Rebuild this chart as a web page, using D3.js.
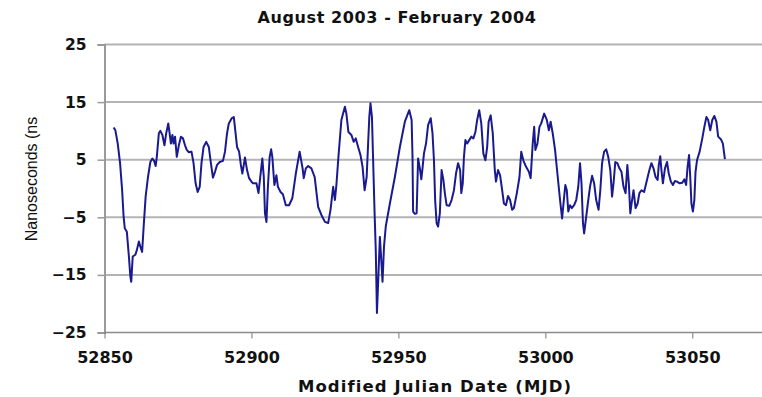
<!DOCTYPE html>
<html>
<head>
<meta charset="utf-8">
<script src="https://cdn.jsdelivr.net/npm/d3@7"></script>
<style>
  html, body { margin: 0; padding: 0; background: #fff; }
  svg { display: block; }
</style>
</head>
<body>
<svg id="chart" width="762" height="397"></svg>
<script>
const titleText = "August 2003 - February 2004";
const xTitle = "Modified Julian Date (MJD)";
const yTitle = "Nanoseconds (ns";
const xTicks = [52850, 52900, 52950, 53000, 53050];
const yTicks = [-25, -15, -5, 5, 15, 25];

const mjd = [
52853.1,52853.7,52854.5,52855.3,52856.0,52856.5,52856.9,52857.6,52858.3,52858.8,
52859.1,52859.6,52860.5,52861.0,52861.7,52862.2,52862.8,52863.4,52864.0,52864.8,
52865.6,52866.3,52866.8,52867.4,52867.8,52868.5,52869.0,52869.7,52870.4,52871.0,
52871.7,52872.1,52872.6,52873.1,52873.5,52874.0,52874.6,52875.3,52876.0,52876.7,
52877.4,52878.0,52878.7,52879.6,52880.3,52881.0,52881.7,52882.4,52883.0,52883.7,
52884.6,52885.5,52886.2,52886.9,52887.6,52888.3,52889.2,52890.3,52891.0,52891.7,
52892.3,52893.3,52894.0,52894.6,52895.1,52895.8,52896.4,52896.9,52897.4,52897.8,
52898.5,52899.2,52900.0,52900.5,52901.7,52902.4,52903.0,52903.7,52904.2,52904.6,
52905.1,52905.6,52906.2,52906.7,52907.1,52907.8,52908.5,52909.0,52909.9,52910.7,
52911.7,52912.8,52913.9,52915.1,52916.4,52917.4,52917.8,52918.5,52919.3,52920.4,
52921.5,52922.7,52923.8,52925.0,52926.1,52926.9,52927.8,52928.4,52928.9,52929.6,
52930.6,52931.8,52932.3,52933.0,52934.0,52934.8,52935.5,52936.3,52937.1,52937.8,
52938.5,52939.2,52939.7,52940.1,52940.5,52941.0,52941.4,52941.9,52942.3,52942.7,
52943.1,52943.7,52944.1,52944.6,52945.1,52945.7,52947.1,52948.8,52950.5,52952.2,
52953.7,52954.5,52954.8,52955.0,52955.6,52956.2,52956.7,52957.3,52957.8,52958.2,
52958.7,52959.4,52960.1,52961.0,52961.6,52962.1,52962.5,52963.0,52963.5,52964.1,
52964.7,52965.3,52965.8,52966.4,52967.3,52968.1,52968.9,52969.6,52970.3,52971.0,
52971.4,52971.9,52972.3,52972.8,52973.4,52974.1,52974.8,52975.5,52976.2,52976.8,
52977.5,52978.2,52978.9,52979.6,52980.2,52980.7,52981.4,52982.1,52982.8,52983.2,
52983.9,52984.6,52985.3,52985.9,52986.6,52987.3,52988.0,52988.7,52989.3,52990.3,
52991.2,52991.8,52992.5,52993.4,52994.4,52995.0,52995.7,52996.2,52996.6,52997.3,
52998.0,52998.6,52999.6,53000.5,53001.2,53001.8,53002.5,53003.3,53004.1,53005.0,
53005.7,53006.4,53006.8,53007.3,53007.8,53008.4,53009.0,53009.8,53010.5,53011.2,
53011.8,53012.3,53012.8,53013.2,53013.9,53014.6,53015.2,53015.9,53016.6,53017.3,
53018.1,53018.7,53019.3,53020.0,53020.7,53021.4,53022.1,53022.7,53023.2,53023.8,
53024.5,53025.2,53025.9,53026.6,53027.3,53027.9,53028.4,53028.9,53029.5,53030.0,
53030.7,53031.4,53032.0,53032.7,53033.6,53034.6,53035.4,53036.1,53036.8,53037.5,
53038.2,53038.6,53039.1,53039.5,53040.0,53040.7,53041.4,53042.0,53042.7,53043.4,
53044.1,53044.8,53045.7,53046.6,53047.3,53047.9,53048.4,53048.9,53049.3,53049.7,
53050.2,53050.7,53051.1,53051.6,53052.5,53053.4,53054.1,53054.8,53055.4,53056.1,
53056.8,53057.5,53058.2,53058.8,53059.8,53060.4,53061.1
];

const ns = [
10.6,10.1,7.8,4.4,-0.3,-4.9,-6.9,-7.5,-11.8,-15.3,
-16.2,-11.8,-11.5,-10.7,-9.2,-10.1,-11.0,-6.0,-1.4,2.0,
4.6,5.2,4.9,3.9,5.5,9.6,10.0,9.3,7.5,9.6,
11.3,9.8,7.8,9.3,7.8,9.0,5.5,7.5,9.0,8.7,
7.5,6.7,6.3,6.4,4.4,0.9,-0.6,0.3,4.4,7.2,
8.1,7.2,4.4,1.9,2.9,4.1,4.6,4.8,6.4,9.6,
11.3,12.2,12.4,9.6,7.2,6.4,4.1,2.6,4.1,5.4,
3.2,1.8,1.2,0.9,0.9,-0.8,2.0,5.2,2.0,-4.3,
-5.8,0.3,5.5,6.8,5.5,0.6,2.3,0.3,-0.6,-1.0,
-2.9,-2.9,-1.7,2.6,6.4,3.5,1.8,3.5,3.9,3.5,
2.0,-3.2,-4.6,-5.8,-6.0,-3.7,0.3,-2.0,0.6,5.5,
11.9,14.2,13.0,9.8,9.3,8.1,8.7,7.2,5.8,3.8,
-0.3,2.0,7.8,12.4,14.8,12.4,4.9,-4.3,-10.7,-21.6,
-16.4,-8.4,-11.8,-16.2,-10.1,-6.6,-2.6,2.0,7.2,11.6,
13.6,11.9,5.5,-4.0,-4.4,-4.3,5.2,3.5,1.6,3.5,
6.1,7.8,11.0,12.2,9.6,4.9,-2.0,-6.0,-6.6,-4.3,
3.2,1.5,-0.8,-2.9,-3.0,-2.0,-0.3,2.6,4.4,3.2,
-0.8,0.9,5.5,8.4,7.8,8.4,9.0,8.7,9.8,11.9,
13.6,11.3,6.1,4.9,7.2,11.6,12.7,9.6,3.2,1.2,
3.2,2.3,-0.3,-2.6,-2.9,-1.3,-2.0,-3.7,-3.4,-0.8,
2.0,6.4,4.9,3.8,2.9,1.8,7.8,10.7,6.7,7.8,
10.7,11.3,13.0,11.9,10.1,11.6,9.6,6.7,2.6,-2.0,
-5.2,-1.4,0.6,-0.3,-4.0,-2.9,-3.4,-2.9,-2.0,0.3,
4.4,0.9,-6.0,-7.8,-4.9,-2.0,0.3,2.2,0.9,-2.0,
-3.7,-0.3,4.4,6.4,6.8,5.5,3.2,-1.4,0.9,4.6,
4.4,3.5,2.9,0.3,-0.8,4.1,0.9,-4.3,-2.0,-0.3,
-3.4,-2.6,-0.8,-0.3,-0.6,1.5,3.2,4.4,3.5,2.0,
1.5,4.1,5.6,3.2,0.9,3.5,4.6,2.6,1.2,0.6,
1.3,1.2,0.9,1.0,1.6,0.6,3.8,5.8,2.0,-2.6,
-4.0,-2.0,2.9,4.9,6.4,8.7,10.7,12.4,11.9,10.1,
11.9,12.6,11.6,9.0,8.5,7.8,5.1
];

const data = mjd.map((d, i) => ({ x: d, y: ns[i] }));

const svg = d3.select("#chart");
const plotLeft = 104.5, plotRight = 762, plotTop = 44.5, plotBottom = 332.5;

const x = d3.scaleLinear().domain([52850, 53050]).range([plotLeft, 692.3]);
const y = d3.scaleLinear().domain([-25, 25]).range([plotBottom, plotTop]);

// gridlines
svg.append("g").selectAll("line").data(yTicks.filter(t => t !== -25)).join("line")
  .attr("x1", plotLeft).attr("x2", plotRight)
  .attr("y1", d => y(d)).attr("y2", d => y(d))
  .attr("stroke", "#b4b4b4").attr("stroke-width", 2);

// y axis
const yAxis = svg.append("g").attr("transform", `translate(${plotLeft},0)`)
  .call(d3.axisLeft(y).tickValues(yTicks).tickSize(7).tickPadding(11).tickFormat(d3.format("d")));
yAxis.select(".domain").attr("stroke", "#9a9a9a").attr("stroke-width", 2);
yAxis.selectAll(".tick line").attr("stroke", "#9a9a9a").attr("stroke-width", 1.5);
yAxis.selectAll(".tick text")
  .attr("font-family", "'DejaVu Sans', sans-serif").attr("font-weight", "bold")
  .attr("font-size", 15.5).attr("fill", "#111");

// x axis
const xAxis = svg.append("g").attr("transform", `translate(0,${plotBottom})`)
  .call(d3.axisBottom(x).tickValues(xTicks).tickSize(6).tickPadding(13).tickFormat(d3.format("d")));
xAxis.select(".domain").remove();
xAxis.append("line").attr("x1", plotLeft).attr("x2", plotRight).attr("y1", 0).attr("y2", 0)
  .attr("stroke", "#8a8a8a").attr("stroke-width", 1.5);
xAxis.selectAll(".tick line").attr("stroke", "#777").attr("stroke-width", 1);
xAxis.selectAll(".tick text")
  .attr("font-family", "'DejaVu Sans', sans-serif").attr("font-weight", "bold")
  .attr("font-size", 16).attr("fill", "#111");

// line
const line = d3.line().x(d => x(d.x)).y(d => y(d.y));
svg.append("path").datum(data)
  .attr("fill", "none").attr("stroke", "#1a1a90").attr("stroke-width", 2)
  .attr("stroke-linejoin", "round").attr("d", line);

// titles
svg.append("text").attr("x", 397).attr("y", 23).attr("text-anchor", "middle")
  .attr("font-family", "'DejaVu Sans', sans-serif").attr("font-weight", "bold")
  .attr("font-size", 16).attr("letter-spacing", 0.6).attr("fill", "#111").text(titleText);

svg.append("text").attr("x", 435).attr("y", 392).attr("text-anchor", "middle")
  .attr("font-family", "'DejaVu Sans', sans-serif").attr("font-weight", "bold")
  .attr("font-size", 16.5).attr("letter-spacing", 1.1).attr("fill", "#111").text(xTitle);

svg.append("text").attr("transform", "translate(37,179) rotate(-90)").attr("text-anchor", "middle")
  .attr("font-family", "'Liberation Sans', Arial, sans-serif")
  .attr("font-size", 16).attr("fill", "#111").text(yTitle);
</script>
</body>
</html>
